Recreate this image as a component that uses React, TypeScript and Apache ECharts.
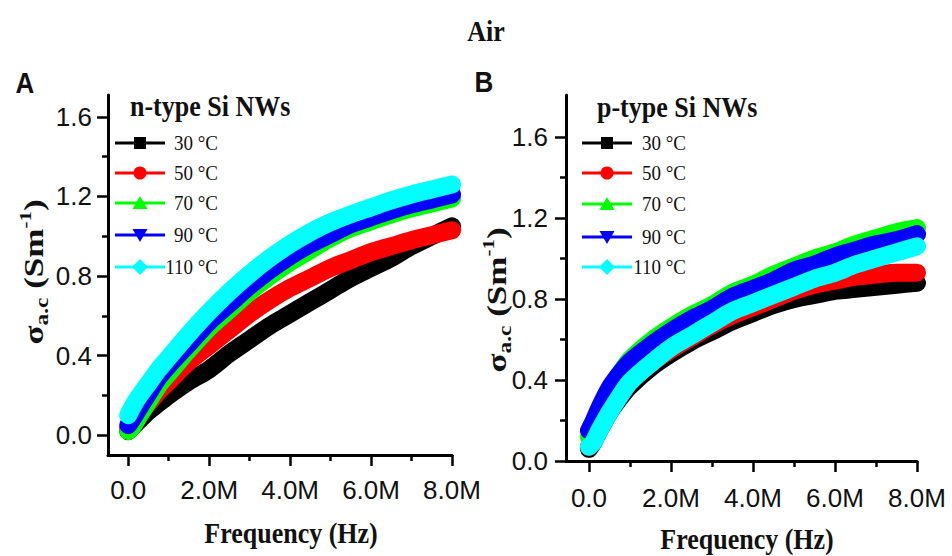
import React, { useEffect, useRef } from "react";
import * as echarts from "echarts";

// Frequency in MHz (converted to Hz when building series)
const freqMHz = [0, 0.1, 0.25, 0.5, 0.75, 1, 1.5, 2, 2.5, 3, 3.5, 4, 4.5, 5, 5.5, 6, 6.5, 7, 7.5, 8];

// Panel A: n-type Si NWs
const nType30 = [0.02, 0.04, 0.07, 0.12, 0.16, 0.20, 0.27, 0.33, 0.41, 0.48, 0.55, 0.61, 0.67, 0.73, 0.79, 0.84, 0.89, 0.95, 1.00, 1.05];
const nType50 = [0.03, 0.06, 0.10, 0.16, 0.22, 0.27, 0.37, 0.45, 0.53, 0.61, 0.68, 0.74, 0.79, 0.84, 0.88, 0.92, 0.95, 0.98, 1.005, 1.03];
const nType70 = [0.02, 0.04, 0.09, 0.17, 0.25, 0.31, 0.43, 0.54, 0.63, 0.72, 0.80, 0.87, 0.93, 0.99, 1.04, 1.075, 1.11, 1.14, 1.165, 1.19];
const nType90 = [0.05, 0.08, 0.13, 0.21, 0.29, 0.35, 0.46, 0.57, 0.66, 0.75, 0.83, 0.90, 0.96, 1.01, 1.06, 1.095, 1.13, 1.16, 1.185, 1.21];
const nType110 = [0.10, 0.14, 0.19, 0.26, 0.33, 0.39, 0.51, 0.62, 0.72, 0.81, 0.89, 0.96, 1.02, 1.07, 1.11, 1.145, 1.18, 1.21, 1.235, 1.26];

// Panel B: p-type Si NWs
const pType30 = [0.06, 0.09, 0.15, 0.24, 0.31, 0.37, 0.46, 0.53, 0.59, 0.64, 0.69, 0.73, 0.77, 0.80, 0.82, 0.84, 0.85, 0.86, 0.87, 0.88];
const pType50 = [0.07, 0.10, 0.16, 0.25, 0.33, 0.39, 0.48, 0.55, 0.61, 0.67, 0.72, 0.76, 0.80, 0.84, 0.87, 0.89, 0.91, 0.92, 0.93, 0.93];
const pType70 = [0.12, 0.17, 0.25, 0.35, 0.43, 0.50, 0.59, 0.66, 0.72, 0.77, 0.83, 0.87, 0.92, 0.96, 1.00, 1.03, 1.07, 1.10, 1.13, 1.15];
const pType90 = [0.15, 0.19, 0.26, 0.36, 0.43, 0.49, 0.57, 0.64, 0.70, 0.75, 0.81, 0.85, 0.89, 0.94, 0.97, 1.01, 1.04, 1.07, 1.09, 1.12];
const pType110 = [0.07, 0.09, 0.15, 0.24, 0.32, 0.39, 0.48, 0.56, 0.62, 0.68, 0.74, 0.78, 0.82, 0.86, 0.90, 0.93, 0.97, 1.00, 1.03, 1.06];

const temps = ["30 °C", "50 °C", "70 °C", "90 °C", "110 °C"];
const colors = ["#000000", "#ff0000", "#00ff00", "#0000ff", "#00ffff"];
const markers = ["square", "circle", "triangle", "invTriangle", "diamond"];

const yMajorTicks = [0, 0.4, 0.8, 1.2, 1.6];
const yMinorTicks = [0.2, 0.6, 1.0, 1.4];
const xMajorTicks = [0, 2e6, 4e6, 6e6, 8e6];
const xMinorTicks = [1e6, 3e6, 5e6, 7e6];

const SERIF = "Liberation Serif";
const SANS = "Liberation Sans";
const INK = "#111111";
const STRETCH = 1.15;

function pairs(ys: number[]) {
  return freqMHz.map((f, i) => [f * 1e6, ys[i]]);
}

function xLabel(v: number) {
  if (v === 0) return "0.0";
  return (v / 1e6).toFixed(1) + "M";
}

function mainX(gridIndex: number, min: number, margin: number) {
  return {
    type: "value",
    gridIndex,
    position: "bottom",
    min,
    max: 8e6,
    axisLine: { show: true, onZero: false, lineStyle: { color: "#000", width: 3 } },
    axisTick: { show: true, customValues: xMajorTicks, length: 11, lineStyle: { color: "#000", width: 2.5 } },
    axisLabel: { show: true, customValues: xMajorTicks, formatter: xLabel, fontFamily: SANS, fontSize: 26, color: INK, margin },
    splitLine: { show: false },
  };
}
function minorX(gridIndex: number, min: number) {
  return {
    type: "value",
    gridIndex,
    position: "bottom",
    min,
    max: 8e6,
    axisLine: { show: false, onZero: false },
    axisTick: { show: true, customValues: xMinorTicks, length: 6, lineStyle: { color: "#000", width: 2.5 } },
    axisLabel: { show: false },
    splitLine: { show: false },
  };
}
function mainY(gridIndex: number, min: number, max: number, margin: number) {
  return {
    type: "value",
    gridIndex,
    position: "left",
    min,
    max,
    axisLine: { show: true, onZero: false, lineStyle: { color: "#000", width: 3 } },
    axisTick: { show: true, customValues: yMajorTicks, length: 11, lineStyle: { color: "#000", width: 2.5 } },
    axisLabel: { show: true, customValues: yMajorTicks, formatter: (v: number) => v.toFixed(1), fontFamily: SANS, fontSize: 26, color: INK, margin },
    splitLine: { show: false },
  };
}
function minorY(gridIndex: number, min: number, max: number) {
  return {
    type: "value",
    gridIndex,
    position: "left",
    min,
    max,
    axisLine: { show: false, onZero: false },
    axisTick: { show: true, customValues: yMinorTicks, length: 6, lineStyle: { color: "#000", width: 2.5 } },
    axisLabel: { show: false },
    splitLine: { show: false },
  };
}

function markerShape(kind: string, cx: number, cy: number, color: string) {
  const style = { fill: color };
  if (kind === "square") return { type: "rect", shape: { x: cx - 6, y: cy - 6, width: 12, height: 12 }, style };
  if (kind === "circle") return { type: "circle", shape: { cx, cy, r: 6.5 }, style };
  if (kind === "triangle") return { type: "polygon", shape: { points: [[cx, cy - 7], [cx - 7.5, cy + 6], [cx + 7.5, cy + 6]] }, style };
  if (kind === "invTriangle") return { type: "polygon", shape: { points: [[cx - 7.5, cy - 6], [cx + 7.5, cy - 6], [cx, cy + 7]] }, style };
  return { type: "polygon", shape: { points: [[cx, cy - 8], [cx + 8, cy], [cx, cy + 8], [cx - 8, cy]] }, style };
}

function txt(text: string, x: number, y: number, font: string, size: number, bold: boolean, align: string) {
  return {
    type: "text",
    x,
    y,
    scaleY: STRETCH,
    style: { text, fontFamily: font, fontWeight: bold ? "bold" : "normal", fontSize: size, fill: INK, align, verticalAlign: "middle" },
  };
}

function legendGraphics(title: string, titleX: number, titleY: number, cx: number, textRight: number, rows: number[]) {
  const out: any[] = [txt(title, titleX, titleY, SERIF, 26, true, "left")];
  temps.forEach((t, i) => {
    const cy = rows[i];
    out.push({ type: "line", shape: { x1: cx - 25, y1: cy, x2: cx + 25, y2: cy }, style: { stroke: colors[i], lineWidth: 3 } });
    out.push(markerShape(markers[i], cx, cy, colors[i]));
    out.push(txt(t, textRight, cy, SERIF, 19, false, "right"));
  });
  return out;
}

function yName(x: number, y: number) {
  return {
    type: "text",
    x,
    y,
    rotation: Math.PI / 2,
    scaleX: 1.3,
    style: {
      text: "{m|σ}{sub|a.c}{m| (Sm}{sup|-1}{m|)}",
      align: "center",
      verticalAlign: "middle",
      fill: INK,
      rich: {
        m: { fontFamily: SERIF, fontWeight: "bold", fontSize: 27, lineHeight: 34, fill: INK },
        sub: { fontFamily: SERIF, fontWeight: "bold", fontSize: 18, lineHeight: 22, verticalAlign: "bottom", fill: INK },
        sup: { fontFamily: SERIF, fontWeight: "bold", fontSize: 16, lineHeight: 22, verticalAlign: "top", fill: INK },
      },
    },
  };
}

export default function App() {
  const ref = useRef<HTMLDivElement>(null);

  useEffect(() => {
    if (!ref.current) return;
    const chart = echarts.init(ref.current, null, { renderer: "svg" });

    const nSets = [nType30, nType50, nType70, nType90, nType110];
    const pSets = [pType30, pType50, pType70, pType90, pType110];
    const series: any[] = [];
    const mk = (prefix: string, sets: number[][], axisIdx: number) =>
      sets.forEach((d, i) => {
        series.push({
          type: "line",
          name: prefix + temps[i],
          xAxisIndex: axisIdx,
          yAxisIndex: axisIdx,
          data: pairs(d),
          smooth: 0.3,
          showSymbol: false,
          lineStyle: { color: colors[i], width: 18, cap: "round", join: "round" },
          z: 2 + i,
        });
      });
    mk("n ", nSets, 0);
    mk("p ", pSets, 2);

    const graphics: any[] = [
      txt("Air", 486, 31, SERIF, 26, true, "center"),
      txt("A", 25, 83, SANS, 26, true, "center"),
      txt("B", 484, 82, SANS, 26, true, "center"),
      txt("Frequency (Hz)", 291, 533, SERIF, 26, true, "center"),
      txt("Frequency (Hz)", 747, 539, SERIF, 26, true, "center"),
      yName(34, 272),
      yName(497, 300),
      ...legendGraphics("n-type Si NWs", 130, 106, 140, 218, [143, 173, 203, 235, 267]),
      ...legendGraphics("p-type Si NWs", 597, 107, 607, 686, [143, 173, 204, 237, 267]),
    ];

    chart.setOption({
      animation: false,
      backgroundColor: "#ffffff",
      grid: [
        { left: 108, top: 95, width: 344, height: 360, containLabel: false },
        { left: 566, top: 95, width: 351, height: 366, containLabel: false },
      ],
      xAxis: [mainX(0, -0.5e6, 22), minorX(0, -0.5e6), mainX(1, -0.56e6, 24), minorX(1, -0.56e6)],
      yAxis: [mainY(0, -0.1, 1.71, 16), minorY(0, -0.1, 1.71), mainY(1, 0, 1.807, 18), minorY(1, 0, 1.807)],
      series,
      graphic: graphics,
    });

    return () => {
      chart.dispose();
    };
  }, []);

  return (
    <div
      ref={ref}
      style={{ position: "fixed", left: 0, top: 0, width: 952, height: 556, background: "#fff" }}
    />
  );
}
